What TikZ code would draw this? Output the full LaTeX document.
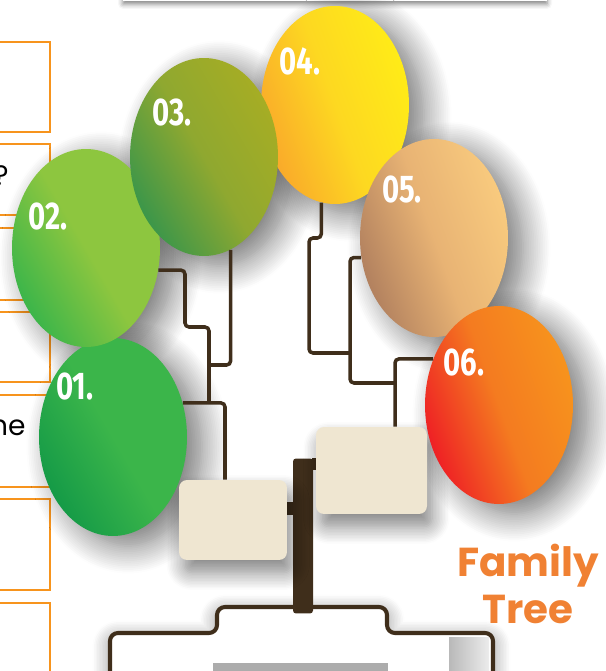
\documentclass[tikz,border=0pt]{standalone}
\usepackage{fontspec}
\usepackage{tikz}
\usetikzlibrary{shapes,shadows,shadows.blur,arrows}

\newfontfamily\titlefont{Poppins}
\newfontfamily\numfont[FakeStretch=0.76]{Fira Sans}

\definecolor{bark}{HTML}{3F2E1B}
\definecolor{cream}{HTML}{EFE6D1}
\definecolor{boxorange}{HTML}{F7941D}
\definecolor{titleorange}{HTML}{F08133}
\definecolor{oneA}{HTML}{149A47}
\definecolor{oneB}{HTML}{3BB54A}
\definecolor{twoA}{HTML}{3AB54A}
\definecolor{twoB}{HTML}{8DC63F}
\definecolor{threeA}{HTML}{3A964A}
\definecolor{threeB}{HTML}{A6AD24}
\definecolor{threeM}{HTML}{8FA830}
\definecolor{fourA}{HTML}{F9A72B}
\definecolor{fourB}{HTML}{FFEC17}
\definecolor{fourM}{HTML}{FDD821}
\definecolor{fiveA}{HTML}{B07F5E}
\definecolor{fiveB}{HTML}{F9CB7E}
\definecolor{fiveM}{HTML}{E8B374}
\definecolor{sixA}{HTML}{EE1D25}
\definecolor{sixB}{HTML}{F7941D}
\definecolor{sixM}{HTML}{F47B20}

\tikzset{
	leaf/.style={ellipse, minimum width=2.96cm, minimum height=3.96cm, inner sep=0pt},
	leafshadow/.style={blur shadow={shadow xshift=0.3cm, shadow yshift=-0.2cm, shadow blur radius=0.55cm, shadow blur steps=16, shadow opacity=55}},
	tag/.style={text=white, inner sep=0pt, font=\numfont\bfseries\fontsize{22}{22}\selectfont},
	branch/.style={draw=bark, line width=2pt, rounded corners=0.08cm},
	plate/.style={fill=cream, rounded corners=0.16cm, inner sep=0pt,
		blur shadow={shadow xshift=0.1cm, shadow yshift=-0.25cm, shadow blur radius=0.35cm, shadow blur steps=12, shadow opacity=50}},
	stem/.style={fill=bark, rounded corners=0.06cm, inner sep=0pt, minimum width=0.4cm, minimum height=3.1cm},
	optbox/.style={draw=boxorange, line width=1.1pt},
	note/.style={inner sep=0pt, font=\titlefont\fontsize{16}{16}\selectfont},
}

\begin{document}
\begin{tikzpicture}[x=0.02cm, y=-0.02cm]
	\useasboundingbox (0,0) rectangle (605,671);

	% top bar
	\fill[white, blur shadow={shadow xshift=0cm, shadow yshift=-0.06cm, shadow blur radius=0.1cm, shadow opacity=50}] (123,-30) rectangle (547,1);

	% boxes on the left
	\draw[optbox] (-5,42) rectangle (50,132);
	\draw[optbox] (-5,144) rectangle (50,215);
	\draw[optbox] (-5,228) rectangle (50,300);
	\draw[optbox] (-5,312) rectangle (50,382);
	\draw[optbox] (-5,395) rectangle (50,487);
	\draw[optbox] (-5,499) rectangle (50,590);
	\draw[optbox] (-5,603) rectangle (50,700);
	\node[note, anchor=east] (q) at (9,176) {?};
	\node[note, anchor=base east] (nm) at (26,435) {ne};

	% shadows of the leaves
	\path[leafshadow] (113,437) ellipse [x radius=1.48cm, y radius=1.98cm];
	\path[leafshadow] (86,248) ellipse [x radius=1.48cm, y radius=1.98cm];
	\path[leafshadow] (204,157) ellipse [x radius=1.48cm, y radius=1.98cm];
	\path[leafshadow] (335,105) ellipse [x radius=1.48cm, y radius=1.98cm];
	\path[leafshadow] (434,238) ellipse [x radius=1.48cm, y radius=1.98cm];
	\path[leafshadow] (499,405) ellipse [x radius=1.48cm, y radius=1.98cm];

	% base
	\draw[bark, fill=white, line width=2.3pt, rounded corners=0.16cm,
		blur shadow={shadow xshift=0cm, shadow yshift=-0.1cm, shadow blur radius=0.35cm, shadow blur steps=12, shadow opacity=45}]
		(110,700) -- (110,633) -- (217,633) -- (217,607) -- (387,607) -- (387,633) -- (493,633) -- (493,700);
	\fill[gray!65] (213,663) rectangle (388,700);
	\shade[left color=gray!55, right color=gray!15] (449,637) rectangle (489,700);

	% trunk and plates
	\node[stem] (trunk) at (303,536) {};
	\fill[bark] (286,502) rectangle (294,515);
	\fill[bark] (312,458) rectangle (317,470);
	\node[plate, minimum width=2.16cm, minimum height=1.6cm] (bl) at (233,520) {};
	\node[plate, minimum width=2.22cm, minimum height=1.74cm] (br) at (371.5,470.5) {};

	% leaves
	\node[leaf, left color=oneA, right color=oneB, middle color=oneB, shading angle=120] (e01) at (113,437) {};
	\node[leaf, left color=twoA, right color=twoB, middle color=twoB, shading angle=120] (e02) at (86,248) {};
	\node[leaf, left color=fourA, right color=fourB, middle color=fourM, shading angle=110] (e04) at (335,105) {};
	\node[leaf, left color=threeA, right color=threeB, middle color=threeM, shading angle=120] (e03) at (204,157) {};
	\node[leaf, left color=fiveA, right color=fiveB, middle color=fiveM, shading angle=110] (e05) at (434,238) {};
	\node[leaf, left color=sixA, right color=sixB, middle color=sixM, shading angle=110] (e06) at (499,405) {};

	\node[tag] (t01) at (75,386) {01.};
	\node[tag] (t02) at (48,216) {02.};
	\node[tag] (t03) at (172,112) {03.};
	\node[tag] (t04) at (300,61) {04.};
	\node[tag] (t05) at (402,189) {05.};
	\node[tag] (t06) at (464,362) {06.};

	% branches
	\coordinate (jl) at (209,403);
	\coordinate (jm) at (209,365);
	\coordinate (jl2) at (225,403);
	\coordinate (jr1) at (350,353);
	\coordinate (jr2) at (395,383);

	\draw[branch] (e02.-17) -| (185,327) -| (jl);
	\draw[branch] (e03.-74) |- (jm);
	\draw[branch] (e01.26) -| (jl2 |- bl.north);

	\draw[branch] (e04.262) |- (309,238) |- (jr1);
	\draw[branch] (e05.195) -| (jr2 -| jr1) -- (jr2);
	\draw[branch] (e06.145) -| (jr2 |- br.north);

	% title
	\node[text=titleorange, align=center, inner sep=0pt, font=\titlefont\bfseries\fontsize{23}{27}\selectfont] (ttl) at (528,584) {Family\\Tree};
\end{tikzpicture}
\end{document}
